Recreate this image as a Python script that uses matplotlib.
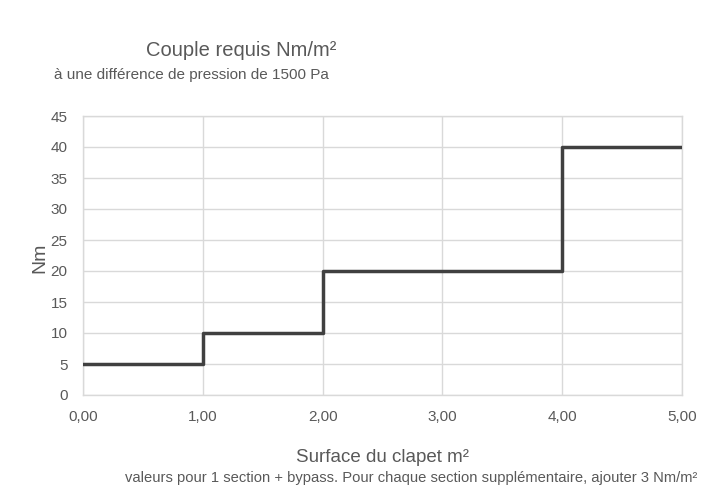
import numpy as np
import matplotlib
matplotlib.use("Agg")
import matplotlib.pyplot as plt

plt.rcParams['font.family'] = ['Liberation Sans', 'DejaVu Sans']

# data
surface = [0, 1, 2, 4, 5]
couple = [5, 10, 20, 40, 40]
x_ticks = [0, 1, 2, 3, 4, 5]
x_labels = ['0,00', '1,00', '2,00', '3,00', '4,00', '5,00']
y_ticks = list(range(0, 50, 5))

txt = '#595959'
grid = '#d9d9d9'

fig = plt.figure(figsize=(7.02, 4.88), dpi=100)
ax = fig.add_axes([83/702, 1-395/488, (682-83)/702, (395-116)/488])

ax.step(surface, couple, where='post', color='#404040', lw=2.5, zorder=3)

ax.set_xlim(0, 5)
ax.set_ylim(0, 45)
ax.set_xticks(x_ticks)
ax.set_xticklabels(x_labels)
ax.set_yticks(y_ticks)
ax.grid(True, color=grid, lw=1)
for s in ax.spines.values():
    s.set_color(grid)
    s.set_linewidth(1)
ax.tick_params(length=0, labelsize=11, labelcolor=txt)
ax.tick_params(axis='y', pad=11)
ax.tick_params(axis='x', pad=11)

fig.text(40/702, 1-258/488, 'Nm', rotation=90, ha='center', va='center',
         fontsize=14, color=txt)

fig.text(241/702, 1-50/488, 'Couple requis Nm/m²', ha='center', va='center',
         fontsize=14.5, color=txt)
fig.text(191/702, 1-75/488, 'à une différence de pression de 1500 Pa', ha='center',
         va='center', fontsize=11, color=txt)
fig.text(383/702, 1-458/488, 'Surface du clapet m²', ha='center', va='center',
         fontsize=13.5, color=txt)
fig.text(411/702, 1-478/488,
         'valeurs pour 1 section + bypass. Pour chaque section supplémentaire, ajouter 3 Nm/m²',
         ha='center', va='center', fontsize=10.6, color=txt)

plt.savefig('out.png', dpi=100)
